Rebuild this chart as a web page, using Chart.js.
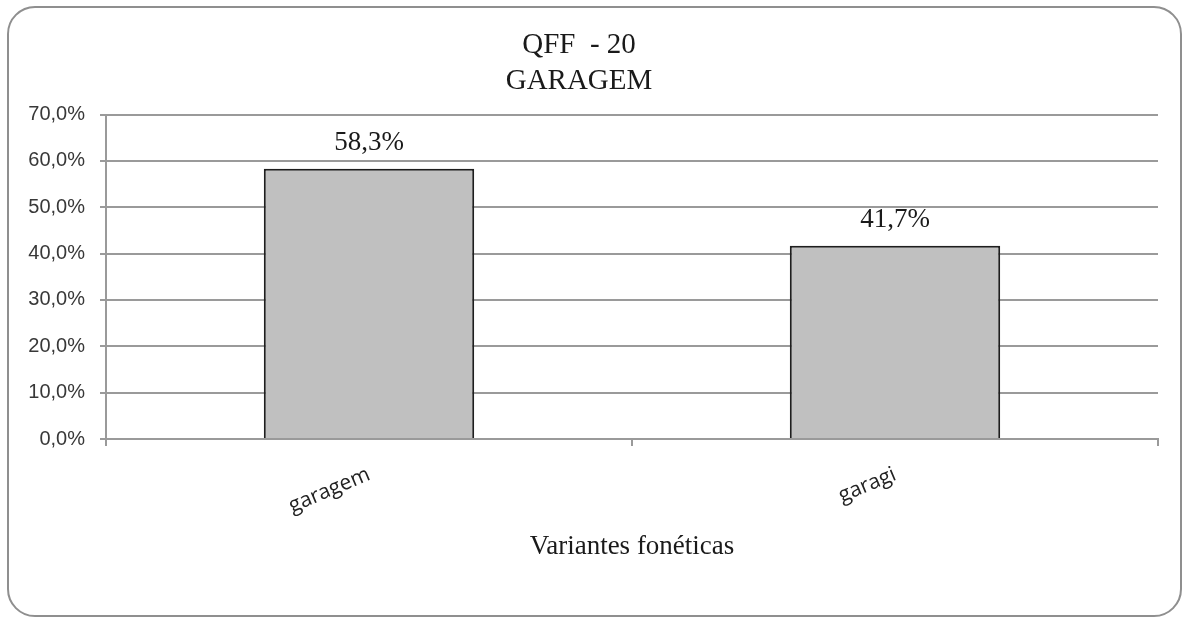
<!DOCTYPE html>
<html>
<head>
<meta charset="utf-8">
<script src="https://cdn.jsdelivr.net/npm/chart.js@4"></script>
<style>
    html, body { margin: 0; padding: 0; background: #fff; }
    #caja { position: relative; width: 1182px; height: 619px; }
    #marco {
        position: absolute; left: 7px; top: 6px; width: 1175px; height: 611px;
        box-sizing: border-box; border: 2px solid #8f8f8f; border-radius: 28px;
        pointer-events: none;
    }
</style>
</head>
<body>
<div id="caja">
    <canvas id="grafico" width="1182" height="619"></canvas>
    <div id="marco"></div>
</div>
<script>
// Datos del gráfico
const titulo     = ['QFF  - 20', 'GARAGEM'];
const variantes  = ['garagem', 'garagi'];
const porcentaje = [58.3, 41.7];
const tituloEjeX = 'Variantes fonéticas';

const fmt = v => v.toFixed(1).replace('.', ',') + '%';

// Etiquetas encima de cada barra
const etiquetasBarras = {
    id: 'etiquetasBarras',
    afterDatasetsDraw(chart){
        const ctx = chart.ctx;
        const meta = chart.getDatasetMeta(0);
        ctx.save();
        ctx.font = '27px "Liberation Serif"';
        ctx.fillStyle = '#1a1a1a';
        ctx.textAlign = 'center';
        ctx.textBaseline = 'middle';
        meta.data.forEach((barra, i) => {
            ctx.fillText(fmt(porcentaje[i]), barra.x, barra.y - 26);
        });
        ctx.restore();
    }
};

new Chart(document.getElementById('grafico'), {
    type: 'bar',
    data: {
        labels: variantes,
        datasets: [{
            data: porcentaje,
            backgroundColor: '#c0c0c0',
            borderColor: '#1e1e1e',
            borderWidth: 2,
            borderSkipped: 'bottom',
            barPercentage: 0.4,
            categoryPercentage: 1
        }]
    },
    options: {
        responsive: false,
        animation: false,
        layout: { padding: { top: 27, right: 24, bottom: 56, left: 0 } },
        plugins: {
            legend: { display: false },
            tooltip: { enabled: false },
            title: {
                display: true,
                text: titulo,
                color: '#1a1a1a',
                font: { family: 'Liberation Serif', size: 29, weight: 'normal', lineHeight: 1.25 },
                padding: { top: 0, bottom: 15 }
            }
        },
        scales: {
            x: {
                grid: { drawOnChartArea: false, color: '#9a9a9a', lineWidth: 2, tickLength: 7 },
                border: { color: '#9a9a9a', width: 2 },
                ticks: {
                    color: '#222',
                    font: { family: 'Open Sans', size: 21 },
                    minRotation: 23, maxRotation: 23,
                    padding: 16
                },
                title: {
                    display: true,
                    text: tituloEjeX,
                    color: '#1a1a1a',
                    font: { family: 'Liberation Serif', size: 27 },
                    padding: 0
                },
                afterFit(scale){ scale.height = 124; }
            },
            y: {
                min: 0, max: 70,
                grid: { color: '#9a9a9a', lineWidth: 2, tickLength: 6 },
                border: { color: '#9a9a9a', width: 2 },
                ticks: {
                    stepSize: 10,
                    color: '#383838',
                    font: { family: 'Liberation Sans', size: 20 },
                    padding: 15,
                    callback: v => fmt(v)
                },
                afterFit(scale){ scale.width = 106; }
            }
        }
    },
    plugins: [etiquetasBarras]
});
</script>
</body>
</html>
